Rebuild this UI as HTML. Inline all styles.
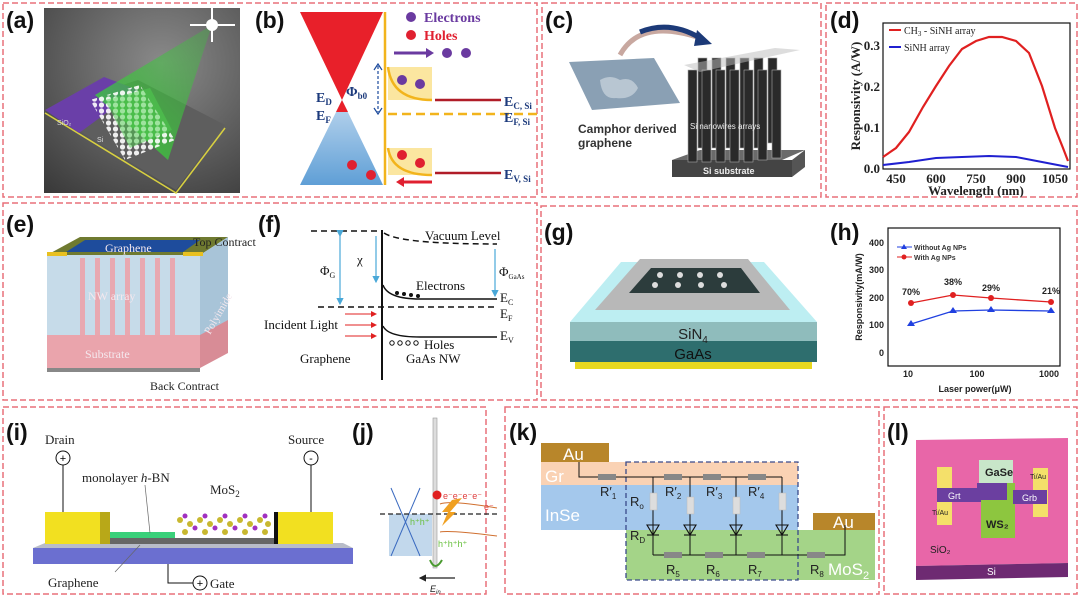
<!DOCTYPE html>
<html><head><meta charset="utf-8"><style>
html,body{margin:0;padding:0;background:#fff;}
svg{display:block;}
.lab{font-family:"Liberation Sans",sans-serif;font-weight:bold;font-size:23px;fill:#111;}
.serif{font-family:"Liberation Serif",serif;}
.sans{font-family:"Liberation Sans",sans-serif;}
</style></head><body>
<svg width="1080" height="598" viewBox="0 0 1080 598" xmlns="http://www.w3.org/2000/svg">
<defs>
<radialGradient id="bgA" cx="0.6" cy="0.3" r="0.9"><stop offset="0" stop-color="#8a8a8a"/><stop offset="1" stop-color="#3a3a3a"/></radialGradient>
<linearGradient id="beam" x1="1" y1="0" x2="0" y2="1"><stop offset="0" stop-color="#3cc03c" stop-opacity="0.3"/><stop offset="1" stop-color="#3ad63a" stop-opacity="0.9"/></linearGradient>
<linearGradient id="blueT" x1="0" y1="0" x2="0" y2="1"><stop offset="0" stop-color="#bcd6ee"/><stop offset="1" stop-color="#5f9fd6"/></linearGradient>
<marker id="ar" markerWidth="6" markerHeight="6" refX="5" refY="3" orient="auto"><path d="M0,0 L6,3 L0,6 z" fill="#e02020"/></marker>
<marker id="ab" markerWidth="6" markerHeight="6" refX="5" refY="3" orient="auto"><path d="M0,0 L6,3 L0,6 z" fill="#4aa8d8"/></marker>
<marker id="abk" markerWidth="6" markerHeight="6" refX="5" refY="3" orient="auto"><path d="M0,0 L6,3 L0,6 z" fill="#222"/></marker>
<pattern id="hex" width="7" height="6" patternUnits="userSpaceOnUse"><circle cx="3.5" cy="3" r="2.6" fill="#fff"/></pattern>
</defs>

<!-- panel borders -->
<g fill="none" stroke="#e8707a" stroke-width="1.5" stroke-dasharray="6,3">
<rect x="3" y="3" width="534" height="194"/>
<rect x="542" y="3" width="279" height="194"/>
<rect x="826" y="3" width="251" height="194"/>
<rect x="3" y="203" width="534" height="197"/>
<rect x="541" y="206" width="536" height="194"/>
<rect x="3" y="407" width="483" height="187"/>
<rect x="505" y="407" width="374" height="187"/>
<rect x="884" y="407" width="193" height="187"/>
</g>

<!-- (a) -->
<rect x="44" y="8" width="196" height="185" fill="url(#bgA)"/>
<polygon points="45,110 138,80 225,125 176,190" fill="#5e5e5e"/>
<polyline points="45,113 176,193 225,128" fill="none" stroke="#d8d040" stroke-width="1.5"/>
<polygon points="45,110 104,77 138,90 79,133" fill="#6a3fa8"/>
<polygon points="212,25 95,95 168,160" fill="url(#beam)"/>
<polygon points="90,100 140,85 175,140 125,160" fill="url(#hex)" opacity="0.9"/>
<polygon points="105,100 150,88 172,130 130,148" fill="#4fd04f" opacity="0.5"/>
<g stroke="#fff" stroke-width="2"><line x1="190" y1="25" x2="235" y2="25"/><line x1="212" y1="8" x2="212" y2="42"/></g>
<circle cx="212" cy="25" r="6" fill="#fff"/>
<text x="57" y="125" class="sans" font-size="7" fill="#ddd">SiO₂</text>
<text x="97" y="142" class="sans" font-size="7" fill="#ddd">Si</text>
<text x="6" y="28" class="lab">(a)</text>

<!-- (b) -->
<text x="255" y="28" class="lab">(b)</text>
<polygon points="300,12 383,12 342,100" fill="#e8202a"/>
<polygon points="342,100 300,185 383,185" fill="url(#blueT)"/>
<polygon points="342,100 336,112 348,112" fill="#e8202a"/>
<line x1="385" y1="12" x2="385" y2="185" stroke="#f2b41c" stroke-width="2.5"/>
<rect x="388" y="67" width="44" height="33" fill="#fbe6a0"/>
<path d="M388,67 Q392,100 432,100" fill="none" stroke="#f2b41c" stroke-width="2.5"/>
<rect x="388" y="148" width="44" height="27" fill="#fbe6a0"/>
<path d="M388,148 Q392,175 432,175" fill="none" stroke="#f2b41c" stroke-width="2.5"/>
<line x1="435" y1="100" x2="501" y2="100" stroke="#b01c28" stroke-width="2.5"/>
<line x1="435" y1="173" x2="501" y2="173" stroke="#b01c28" stroke-width="2.5"/>
<line x1="388" y1="114" x2="540" y2="114" stroke="#f2b41c" stroke-width="2.5" stroke-dasharray="9,5"/>
<line x1="378" y1="66" x2="378" y2="112" stroke="#1c4a9c" stroke-width="1.2" stroke-dasharray="3,2"/>
<path d="M374,70 L378,64 L382,70 M374,108 L378,114 L382,108" fill="none" stroke="#1c4a9c" stroke-width="1.2"/>
<circle cx="411" cy="17" r="5" fill="#6a3aa0"/>
<text x="424" y="22" class="serif" font-size="14" font-weight="bold" fill="#6a3aa0">Electrons</text>
<circle cx="411" cy="35" r="5" fill="#e02030"/>
<text x="424" y="40" class="serif" font-size="14" font-weight="bold" fill="#e02030">Holes</text>
<line x1="394" y1="53" x2="428" y2="53" stroke="#6a3aa0" stroke-width="3"/><polygon points="426,48 434,53 426,58" fill="#6a3aa0"/>
<circle cx="447" cy="53" r="5" fill="#6a3aa0"/><circle cx="466" cy="53" r="5" fill="#6a3aa0"/>
<circle cx="402" cy="80" r="5" fill="#6a3aa0"/><circle cx="420" cy="84" r="5" fill="#6a3aa0"/>
<circle cx="402" cy="155" r="5" fill="#e02030"/><circle cx="420" cy="163" r="5" fill="#e02030"/>
<circle cx="352" cy="165" r="5" fill="#e02030"/><circle cx="371" cy="175" r="5" fill="#e02030"/>
<line x1="432" y1="182" x2="402" y2="182" stroke="#e02030" stroke-width="3"/><polygon points="404,177 396,182 404,187" fill="#e02030"/>
<g class="serif" font-weight="bold" fill="#1c3a7c" font-size="14">
<text x="316" y="102">E<tspan font-size="9" dy="3">D</tspan></text>
<text x="316" y="120">E<tspan font-size="9" dy="3">F</tspan></text>
<text x="346" y="96">Φ<tspan font-size="9" dy="3">b0</tspan></text>
<text x="504" y="106">E<tspan font-size="9" dy="3">C, Si</tspan></text>
<text x="504" y="122">E<tspan font-size="9" dy="3">F, Si</tspan></text>
<text x="504" y="179">E<tspan font-size="9" dy="3">V, Si</tspan></text>
</g>

<!-- (c) -->
<text x="545" y="28" class="lab">(c)</text>
<polygon points="569,62 654,58 680,103 592,110" fill="#8aa0b4"/>
<path d="M600,80 q10,-6 20,0 q12,-4 18,8 q-6,12 -22,10 q-14,2 -16,-18z" fill="#b8c6d2"/>
<path d="M620,55 Q640,18 700,38" fill="none" stroke="#c8a8a0" stroke-width="5"/>
<path d="M640,32 Q670,20 700,38" fill="none" stroke="#1c3a78" stroke-width="5"/>
<polygon points="697,30 712,44 694,46" fill="#1c3a78"/>
<polygon points="672,160 782,160 805,150 700,150" fill="#6a6a6a"/>
<rect x="672" y="160" width="120" height="17" fill="#444"/>
<polygon points="792,160 805,150 805,167 792,177" fill="#555"/>
<g fill="#2a2a2a" stroke="#aaa" stroke-width="0.6">
<rect x="698" y="58" width="9" height="90"/><rect x="712" y="58" width="9" height="90"/><rect x="726" y="58" width="9" height="90"/><rect x="740" y="58" width="9" height="90"/><rect x="754" y="58" width="9" height="90"/><rect x="768" y="58" width="9" height="85"/>
<rect x="688" y="70" width="9" height="92"/><rect x="702" y="70" width="9" height="92"/><rect x="716" y="70" width="9" height="92"/><rect x="730" y="70" width="9" height="92"/><rect x="744" y="70" width="9" height="92"/><rect x="758" y="70" width="9" height="90"/><rect x="772" y="70" width="9" height="88"/>
</g>
<polygon points="684,65 775,48 800,50 700,72" fill="#bbb" opacity="0.5"/>
<text x="690" y="129" class="sans" font-size="8" fill="#eee">Si nanowires arrays</text>
<text x="703" y="174" class="sans" font-size="9" font-weight="bold" fill="#eee">Si substrate</text>
<text x="578" y="133" class="sans" font-size="12" font-weight="bold" fill="#333">Camphor derived</text>
<text x="578" y="147" class="sans" font-size="12" font-weight="bold" fill="#333">graphene</text>

<!-- (d) -->
<text x="830" y="28" class="lab">(d)</text>
<rect x="883" y="23" width="187" height="146" fill="none" stroke="#111" stroke-width="1.2"/>
<g class="serif" font-size="13" font-weight="bold" fill="#222" text-anchor="end">
<text x="880" y="173">0.0</text><text x="880" y="132">0.1</text><text x="880" y="91">0.2</text><text x="880" y="50">0.3</text>
</g>
<g class="serif" font-size="13" font-weight="bold" fill="#222" text-anchor="middle">
<text x="896" y="183">450</text><text x="936" y="183">600</text><text x="976" y="183">750</text><text x="1016" y="183">900</text><text x="1055" y="183">1050</text>
<text x="976" y="195">Wavelength (nm)</text>
</g>
<text transform="translate(860,96) rotate(-90)" class="serif" font-size="13" font-weight="bold" fill="#222" text-anchor="middle">Responsivity (A/W)</text>
<polyline fill="none" stroke="#e02020" stroke-width="2.2" points="883,157 896,148 909,132 923,107 936,86 949,66 962,49 976,41 989,37 1002,37 1016,41 1029,53 1042,86 1055,128 1063,148 1068,161"/>
<polyline fill="none" stroke="#2020d0" stroke-width="2" points="883,165 909,162 936,158 962,157 989,156 1016,157 1042,162 1068,167"/>
<line x1="889" y1="30" x2="901" y2="30" stroke="#e02020" stroke-width="2"/>
<text x="904" y="34" class="serif" font-size="10" fill="#222">CH<tspan font-size="7" dy="2">3</tspan><tspan dy="-2"> - SiNH array</tspan></text>
<line x1="889" y1="47" x2="901" y2="47" stroke="#2020d0" stroke-width="2"/>
<text x="904" y="51" class="serif" font-size="10" fill="#222">SiNH array</text>

<!-- (e) -->
<text x="6" y="232" class="lab">(e)</text>
<polygon points="47,255 80,237 228,237 200,255" fill="#6f7a30"/>
<polygon points="66,252 85,240 200,240 183,252" fill="#1e4c9c"/>
<rect x="47" y="255" width="153" height="105" fill="#b8d2e4" opacity="0.8"/>
<polygon points="200,255 228,237 228,340 200,360" fill="#a8c4d8"/>
<g fill="#e8a8b0"><rect x="80" y="258" width="5" height="80"/><rect x="95" y="258" width="5" height="80"/><rect x="110" y="258" width="5" height="80"/><rect x="125" y="258" width="5" height="80"/><rect x="140" y="258" width="5" height="80"/><rect x="155" y="258" width="5" height="80"/><rect x="170" y="258" width="5" height="80"/></g>
<rect x="47" y="335" width="153" height="33" fill="#eaa4ac"/>
<polygon points="200,335 228,320 228,353 200,368" fill="#d88c96"/>
<rect x="47" y="368" width="153" height="4" fill="#888"/>
<rect x="47" y="252" width="20" height="4" fill="#e8c020"/><rect x="183" y="252" width="20" height="4" fill="#e8c020"/>
<g class="serif" font-size="12" fill="#222">
<text x="193" y="246">Top Contract</text>
<text x="150" y="390">Back Contract</text>
</g>
<g class="serif" font-size="12" fill="#f4e8ee">
<text x="105" y="252">Graphene</text>
<text x="88" y="300">NW array</text>
<text x="85" y="358">Substrate</text>
<text transform="translate(210,335) rotate(-60)" font-size="11">Polyimide</text>
</g>

<!-- (f) -->
<text x="258" y="232" class="lab">(f)</text>
<line x1="382" y1="230" x2="382" y2="380" stroke="#111" stroke-width="2"/>
<line x1="311" y1="231" x2="382" y2="231" stroke="#111" stroke-width="1.5" stroke-dasharray="6,4"/>
<path d="M384,233 Q400,244 497,244" fill="none" stroke="#111" stroke-width="1.5" stroke-dasharray="6,4"/>
<line x1="318" y1="307" x2="497" y2="307" stroke="#111" stroke-width="1.5" stroke-dasharray="6,4"/>
<path d="M383,285 Q388,299 420,299 L497,299" fill="none" stroke="#111" stroke-width="1.5"/>
<path d="M383,326 Q388,337 420,337 L497,337" fill="none" stroke="#111" stroke-width="1.5"/>
<g stroke="#4aa8d8" stroke-width="1.2"><line x1="340" y1="236" x2="340" y2="304" marker-end="url(#ab)" marker-start="url(#ab)"/><line x1="376" y1="236" x2="376" y2="282" marker-end="url(#ab)"/><line x1="495" y1="249" x2="495" y2="296" marker-end="url(#ab)"/></g>
<g stroke="#e02020" stroke-width="1"><line x1="345" y1="314" x2="376" y2="314" marker-end="url(#ar)"/><line x1="345" y1="325" x2="376" y2="325" marker-end="url(#ar)"/><line x1="345" y1="336" x2="376" y2="336" marker-end="url(#ar)"/></g>
<g fill="#111"><circle cx="397" cy="293" r="2"/><circle cx="404" cy="294" r="2"/><circle cx="411" cy="295" r="2"/><circle cx="418" cy="296" r="2"/></g>
<g fill="none" stroke="#111"><circle cx="392" cy="343" r="2.2"/><circle cx="400" cy="343" r="2.2"/><circle cx="408" cy="343" r="2.2"/><circle cx="416" cy="343" r="2.2"/></g>
<g class="serif" font-size="13" fill="#111">
<text x="425" y="240">Vacuum Level</text>
<text x="320" y="275">Φ<tspan font-size="8" dy="3">G</tspan></text>
<text x="357" y="264">χ</text>
<text x="499" y="276">Φ<tspan font-size="7" dy="3">GaAs</tspan></text>
<text x="416" y="290">Electrons</text>
<text x="500" y="302">E<tspan font-size="8" dy="3">C</tspan></text>
<text x="500" y="318">E<tspan font-size="8" dy="3">F</tspan></text>
<text x="500" y="340">E<tspan font-size="8" dy="3">V</tspan></text>
<text x="264" y="329">Incident Light</text>
<text x="424" y="349">Holes</text>
<text x="300" y="363">Graphene</text>
<text x="406" y="363">GaAs NW</text>
</g>

<!-- (g) -->
<text x="544" y="240" class="lab">(g)</text>
<polygon points="621,262 764,262 817,322 570,322" fill="#bdeef2"/>
<polygon points="640,259 748,259 790,310 595,310" fill="#b8b8b8"/>
<polygon points="651,268 741,268 760,293 629,293" fill="#2c3c3c"/>
<g fill="#ddd"><circle cx="660" cy="275" r="3"/><circle cx="680" cy="275" r="3"/><circle cx="700" cy="275" r="3"/><circle cx="720" cy="275" r="3"/><circle cx="655" cy="285" r="3"/><circle cx="678" cy="285" r="3"/><circle cx="701" cy="285" r="3"/><circle cx="724" cy="285" r="3"/></g>
<rect x="570" y="322" width="247" height="19" fill="#8fbcbc"/>
<rect x="570" y="341" width="247" height="21" fill="#2e6e6e"/>
<rect x="575" y="362" width="237" height="7" fill="#e8d820"/>
<text x="693" y="339" class="sans" font-size="15" fill="#222" text-anchor="middle">SiN<tspan font-size="10" dy="4">4</tspan></text>
<text x="693" y="359" class="sans" font-size="15" fill="#111" text-anchor="middle">GaAs</text>

<!-- (h) -->
<text x="830" y="240" class="lab">(h)</text>
<rect x="888" y="228" width="172" height="138" fill="none" stroke="#111" stroke-width="1.2"/>
<g class="sans" font-size="9" font-weight="bold" fill="#222" text-anchor="end">
<text x="884" y="356">0</text><text x="884" y="328">100</text><text x="884" y="301">200</text><text x="884" y="273">300</text><text x="884" y="246">400</text>
</g>
<g class="sans" font-size="9" font-weight="bold" fill="#222" text-anchor="middle">
<text x="908" y="377">10</text><text x="977" y="377">100</text><text x="1049" y="377">1000</text>
<text x="975" y="392">Laser power(μW)</text>
<text x="911" y="295">70%</text><text x="953" y="285">38%</text><text x="991" y="291">29%</text><text x="1051" y="294">21%</text>
</g>
<text transform="translate(862,297) rotate(-90)" class="sans" font-size="9" font-weight="bold" fill="#222" text-anchor="middle">Responsivity(mA/W)</text>
<polyline fill="none" stroke="#e02020" stroke-width="1.3" points="911,303 953,295 991,298 1051,302"/>
<g fill="#e02020"><circle cx="911" cy="303" r="3"/><circle cx="953" cy="295" r="3"/><circle cx="991" cy="298" r="3"/><circle cx="1051" cy="302" r="3"/></g>
<polyline fill="none" stroke="#2040e0" stroke-width="1.3" points="911,324 953,311 991,310 1051,311"/>
<g fill="#2040e0"><polygon points="911,320 907,326 915,326"/><polygon points="953,307 949,313 957,313"/><polygon points="991,306 987,312 995,312"/><polygon points="1051,307 1047,313 1055,313"/></g>
<line x1="897" y1="247" x2="912" y2="247" stroke="#2040e0"/><polygon points="904,244 901,249 907,249" fill="#2040e0"/>
<line x1="897" y1="257" x2="912" y2="257" stroke="#e02020"/><circle cx="904" cy="257" r="2.5" fill="#e02020"/>
<text x="914" y="250" class="sans" font-size="7" font-weight="bold" fill="#333">Without Ag NPs</text>
<text x="914" y="260" class="sans" font-size="7" font-weight="bold" fill="#333">With Ag NPs</text>

<!-- (i) -->
<text x="6" y="440" class="lab">(i)</text>
<rect x="33" y="548" width="320" height="16" fill="#6b6fd0"/>
<polygon points="33,548 45,543 343,543 353,548" fill="#b8bcc8"/>
<rect x="100" y="538" width="176" height="6" fill="#666"/>
<rect x="100" y="532" width="75" height="6" fill="#3ad07a"/>
<g fill="#c8b830"><circle cx="180" cy="520" r="3"/><circle cx="190" cy="524" r="3"/><circle cx="200" cy="520" r="3"/><circle cx="210" cy="524" r="3"/><circle cx="220" cy="520" r="3"/><circle cx="230" cy="524" r="3"/><circle cx="240" cy="520" r="3"/><circle cx="250" cy="524" r="3"/><circle cx="260" cy="520" r="3"/><circle cx="268" cy="524" r="3"/>
<circle cx="185" cy="532" r="3"/><circle cx="205" cy="532" r="3"/><circle cx="225" cy="532" r="3"/><circle cx="245" cy="532" r="3"/><circle cx="265" cy="532" r="3"/></g>
<g fill="#a030c0"><circle cx="185" cy="516" r="2.5"/><circle cx="205" cy="516" r="2.5"/><circle cx="225" cy="516" r="2.5"/><circle cx="245" cy="516" r="2.5"/><circle cx="265" cy="516" r="2.5"/><circle cx="195" cy="528" r="2.5"/><circle cx="215" cy="528" r="2.5"/><circle cx="235" cy="528" r="2.5"/><circle cx="255" cy="528" r="2.5"/></g>
<rect x="45" y="512" width="55" height="32" fill="#f2e020"/><rect x="100" y="512" width="10" height="32" fill="#b8a818"/>
<rect x="276" y="512" width="57" height="32" fill="#f2e020"/><rect x="274" y="512" width="4" height="32" fill="#111"/>
<line x1="63" y1="465" x2="63" y2="512" stroke="#111"/>
<line x1="311" y1="465" x2="311" y2="512" stroke="#111"/>
<circle cx="63" cy="458" r="7" fill="#fff" stroke="#111"/><text x="63" y="462" class="sans" font-size="11" text-anchor="middle">+</text>
<circle cx="311" cy="458" r="7" fill="#fff" stroke="#111"/><text x="311" y="462" class="sans" font-size="11" text-anchor="middle">-</text>
<polyline points="168,564 168,583 193,583" fill="none" stroke="#111"/>
<circle cx="200" cy="583" r="7" fill="#fff" stroke="#111"/><text x="200" y="587" class="sans" font-size="11" text-anchor="middle">+</text>
<line x1="145" y1="485" x2="150" y2="533" stroke="#666" stroke-width="0.7"/>
<line x1="115" y1="572" x2="140" y2="545" stroke="#666" stroke-width="0.7"/>
<g class="serif" font-size="13" fill="#222">
<text x="45" y="444">Drain</text><text x="288" y="444">Source</text>
<text x="82" y="482">monolayer <tspan font-style="italic">h</tspan>-BN</text>
<text x="210" y="494">MoS<tspan font-size="9" dy="3">2</tspan></text>
<text x="48" y="587">Graphene</text>
<text x="210" y="588">Gate</text>
</g>

<!-- (j) -->
<text x="352" y="440" class="lab">(j)</text>
<rect x="389" y="514" width="43" height="42" fill="#a8c8e4" opacity="0.7"/>
<line x1="391" y1="488" x2="420" y2="556" stroke="#3a6ac0" stroke-width="1"/>
<line x1="420" y1="488" x2="391" y2="556" stroke="#3a6ac0" stroke-width="1"/>
<rect x="433" y="418" width="4" height="150" fill="#ddd" stroke="#999" stroke-width="0.6"/>
<line x1="380" y1="514" x2="497" y2="514" stroke="#222" stroke-width="1.3" stroke-dasharray="5,3"/>
<path d="M440,504 Q450,500 497,508" fill="none" stroke="#d07030" stroke-width="1"/>
<path d="M440,532 Q450,530 497,536" fill="none" stroke="#d07030" stroke-width="1"/>
<polygon points="452,500 462,498 450,512 456,512 442,526 448,512 442,512" fill="#f0a020"/>
<circle cx="437" cy="495" r="4.5" fill="#e02020"/>
<g class="sans" font-size="9">
<text x="443" y="499" fill="#e04040">e⁻e⁻e⁻e⁻</text>
<text x="484" y="510" fill="#e04040">e⁻</text>
<text x="410" y="525" fill="#6ac040">h⁺h⁺</text>
<text x="438" y="547" fill="#6ac040">h⁺h⁺h⁺</text>
<text x="430" y="592" font-style="italic" fill="#222">E<tspan font-size="6" dy="2">in</tspan></text>
</g>
<path d="M430,560 Q435,572 442,560" fill="none" stroke="#4a9a30" stroke-width="2"/>
<line x1="455" y1="578" x2="420" y2="578" stroke="#222" stroke-width="1.2" marker-end="url(#abk)"/>

<!-- (k) -->
<text x="509" y="440" class="lab">(k)</text>
<rect x="541" y="462" width="257" height="23" fill="#fad2b4"/>
<rect x="541" y="485" width="257" height="45" fill="#a4c8ec"/>
<rect x="626" y="530" width="249" height="50" fill="#a4d488"/>
<rect x="798" y="530" width="77" height="0" fill="#a4d488"/>
<rect x="541" y="443" width="68" height="19" fill="#b8862a"/>
<rect x="813" y="513" width="62" height="17" fill="#b8862a"/>
<rect x="626" y="462" width="172" height="118" fill="none" stroke="#3a4a8a" stroke-width="1.3" stroke-dasharray="5,3"/>
<g stroke="#111" stroke-width="1" fill="none">
<polyline points="579,462 579,477 782,477"/>
<line x1="653" y1="477" x2="653" y2="555"/><line x1="690" y1="477" x2="690" y2="555"/><line x1="736" y1="477" x2="736" y2="555"/><line x1="782" y1="477" x2="782" y2="555"/>
<polyline points="653,555 845,555 845,525"/>
</g>
<g fill="#888"><rect x="598" y="474" width="18" height="6"/><rect x="664" y="474" width="18" height="6"/><rect x="703" y="474" width="18" height="6"/><rect x="748" y="474" width="18" height="6"/>
<rect x="664" y="552" width="18" height="6"/><rect x="705" y="552" width="18" height="6"/><rect x="747" y="552" width="18" height="6"/><rect x="807" y="552" width="18" height="6"/></g>
<g fill="#ddd" stroke="#bbb" stroke-width="0.5"><rect x="650" y="493" width="7" height="17"/><rect x="687" y="497" width="7" height="17"/><rect x="733" y="497" width="7" height="17"/><rect x="779" y="493" width="7" height="17"/></g>
<g fill="none" stroke="#111" stroke-width="1.1">
<polygon points="647,525 659,525 653,535"/><line x1="647" y1="535" x2="659" y2="535"/>
<polygon points="684,525 696,525 690,535"/><line x1="684" y1="535" x2="696" y2="535"/>
<polygon points="730,525 742,525 736,535"/><line x1="730" y1="535" x2="742" y2="535"/>
<polygon points="776,525 788,525 782,535"/><line x1="776" y1="535" x2="788" y2="535"/>
</g>
<g class="sans" font-size="13" fill="#222">
<text x="600" y="496">R′<tspan font-size="8" dy="3">1</tspan></text>
<text x="665" y="496">R′<tspan font-size="8" dy="3">2</tspan></text>
<text x="706" y="496">R′<tspan font-size="8" dy="3">3</tspan></text>
<text x="748" y="496">R′<tspan font-size="8" dy="3">4</tspan></text>
<text x="630" y="506">R<tspan font-size="8" dy="3">o</tspan></text>
<text x="630" y="540">R<tspan font-size="8" dy="3">D</tspan></text>
<text x="666" y="574">R<tspan font-size="8" dy="3">5</tspan></text>
<text x="706" y="574">R<tspan font-size="8" dy="3">6</tspan></text>
<text x="748" y="574">R<tspan font-size="8" dy="3">7</tspan></text>
<text x="810" y="574">R<tspan font-size="8" dy="3">8</tspan></text>
</g>
<g class="sans" font-size="17" fill="#fff">
<text x="563" y="460">Au</text><text x="545" y="482">Gr</text><text x="545" y="521">InSe</text>
<text x="833" y="528">Au</text><text x="828" y="575">MoS<tspan font-size="11" dy="4">2</tspan></text>
</g>

<!-- (l) -->
<text x="887" y="440" class="lab">(l)</text>
<polygon points="916,440 1068,438 1068,563 916,566" fill="#e866a8"/>
<polygon points="916,566 1068,563 1068,577 916,580" fill="#6e2a72"/>
<rect x="937" y="467" width="15" height="58" fill="#f4e06a"/>
<rect x="1033" y="468" width="15" height="49" fill="#f4e06a"/>
<rect x="979" y="460" width="34" height="42" fill="#c8e6c9"/>
<rect x="981" y="483" width="34" height="55" fill="#8dc63f"/>
<rect x="937" y="488" width="44" height="14" fill="#6b3fa0"/>
<rect x="977" y="483" width="30" height="17" fill="#6b3fa0"/>
<rect x="1013" y="490" width="34" height="14" fill="#6b3fa0"/>
<g class="sans" fill="#222">
<text x="985" y="476" font-size="11" font-weight="bold">GaSe</text>
<text x="986" y="528" font-size="11" font-weight="bold">WS₂</text>
<text x="948" y="499" font-size="9" fill="#fff">Grt</text>
<text x="1022" y="501" font-size="9" fill="#fff">Grb</text>
<text x="1030" y="479" font-size="7">Ti/Au</text>
<text x="932" y="515" font-size="7">Ti/Au</text>
<text x="930" y="553" font-size="10">SiO₂</text>
<text x="987" y="575" font-size="10" fill="#fff">Si</text>
</g>
</svg>
</body></html>
